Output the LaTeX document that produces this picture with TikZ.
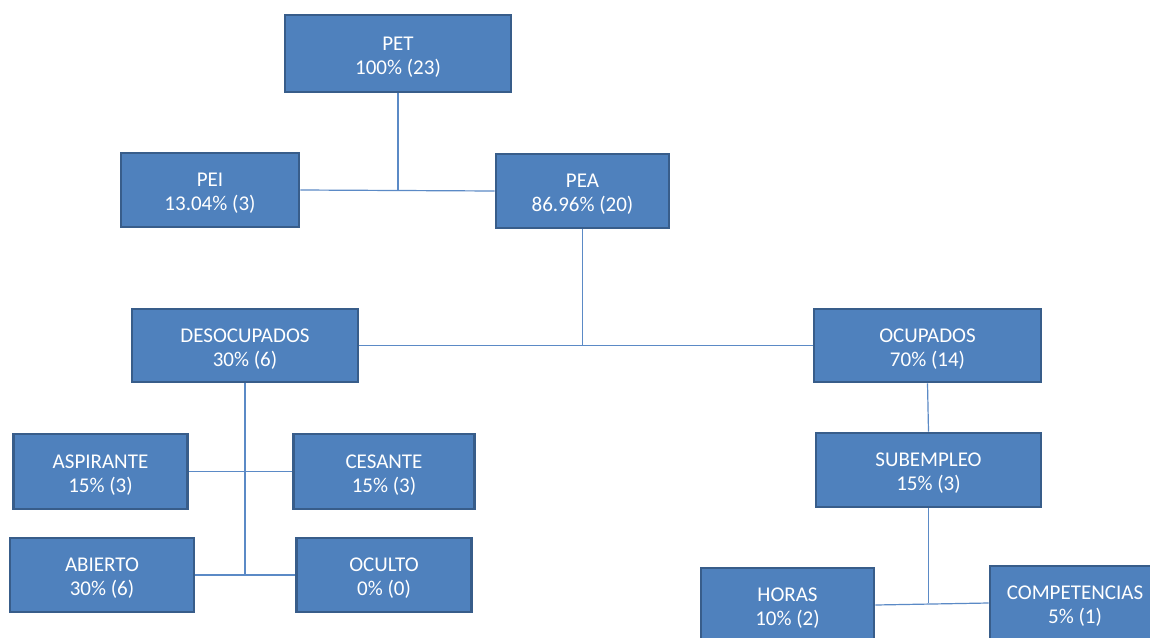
\documentclass[tikz,border=0pt]{standalone}
\usepackage{fontspec}
\setmainfont{Carlito}
\definecolor{boxfill}{HTML}{4F81BD}
\definecolor{boxborder}{HTML}{385D8A}
\definecolor{conn}{HTML}{5B8AC6}
\newcommand{\twolines}[2]{\rule{0pt}{20pt}#1\\#2}
\begin{document}
\begin{tikzpicture}[x=1pt,y=-1pt,
  orgbox/.style={draw=boxborder, fill=boxfill, line width=2.8pt, text=white,
    align=center, inner sep=0pt, font=\fontsize{21}{24}\selectfont},
  link/.style={draw=conn, line width=1.2pt}]
\clip (0,0) rectangle (1150,637);
\fill[white] (0,0) rectangle (1150,637);
% boxes
\node[orgbox, minimum width=226, minimum height=77] (PET) at (398,53.5) {\twolines{PET}{100\% (23)}};
\node[orgbox, minimum width=178, minimum height=74] (PEI) at (210,190) {\twolines{PEI}{13.04\% (3)}};
\node[orgbox, minimum width=173, minimum height=74] (PEA) at (582.5,191) {\twolines{PEA}{86.96\% (20)}};
\node[orgbox, minimum width=226, minimum height=73] (DES) at (245,345.5) {\twolines{DESOCUPADOS}{30\% (6)}};
\node[orgbox, minimum width=227, minimum height=73] (OCU) at (927.5,345.5) {\twolines{OCUPADOS}{70\% (14)}};
\node[orgbox, minimum width=174, minimum height=75] (ASP) at (100.5,471.5) {\twolines{ASPIRANTE}{15\% (3)}};
\node[orgbox, minimum width=181, minimum height=75] (CES) at (384,471.5) {\twolines{CESANTE}{15\% (3)}};
\node[orgbox, minimum width=184, minimum height=74] (ABI) at (102,575) {\twolines{ABIERTO}{30\% (6)}};
\node[orgbox, minimum width=175, minimum height=74] (OCL) at (384,575) {\twolines{OCULTO}{0\% (0)}};
\node[orgbox, minimum width=225, minimum height=74] (SUB) at (928.5,470) {\twolines{SUBEMPLEO}{15\% (3)}};
\node[orgbox, minimum width=173, minimum height=74] (HOR) at (787.5,605) {\twolines{HORAS}{10\% (2)}};
\node[orgbox, minimum width=170, minimum height=74] (COM) at (1075,603) {\twolines{COMPETENCIAS}{5\% (1)}};
% connectors
\draw[link] (PEI.east) -- (PEA.west);
\draw[link] (PET.south) -- (PET.south |- PEI.east);
\draw[link] (DES.east) -- (OCU.west);
\draw[link] (PEA.south) -- (PEA.south |- DES.east);
\draw[link] (ASP.east) -- (CES.west);
\draw[link] (ABI.east) -- (OCL.west);
\draw[link] (DES.south) -- (DES.south |- ABI.east);
\draw[link] (OCU.south) -- (SUB.north);
\draw[link] (HOR.east) -- (COM.west);
\draw[link] (SUB.south) -- (SUB.south |- COM.west);
\end{tikzpicture}
\end{document}
